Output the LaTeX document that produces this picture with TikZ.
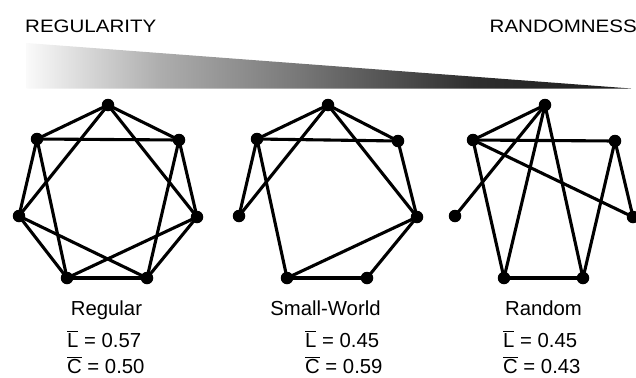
\documentclass[tikz,border=0pt]{standalone}
\usepackage{fontspec}
\setmainfont{Liberation Sans}
\usetikzlibrary{backgrounds}
\pgfdeclarehorizontalshading{wedgeshade}{100bp}{color(0bp)=(black!2); color(25bp)=(black!2); color(36bp)=(black!32); color(47.5bp)=(black!53); color(62bp)=(black!82); color(75bp)=(black!89); color(100bp)=(black!89)}
\tikzset{
  dot/.style={circle, fill=black, inner sep=0pt, minimum size=12.5bp},
  edge/.style={line width=3.1bp, line cap=round},
  toplabel/.style={inner sep=0pt, font=\fontsize{18bp}{21bp}\selectfont},
  botlabel/.style={inner sep=0pt, font=\fontsize{20.3bp}{24bp}\selectfont},
}
\newcommand{\barred}[1]{$\overline{\hbox{#1}}$}
\begin{document}
\begin{tikzpicture}[x=1bp,y=-1bp]
\useasboundingbox (0,0) rectangle (636,377);
% labels top
\node[toplabel, anchor=base west] (reg) at (25,32) {\scalebox{1.14}[1]{REGULARITY}};
\node[toplabel, anchor=base east] (rnd) at (637,32) {\scalebox{1.14}[1]{RANDOMNESS}};
% wedge
\shade[shading=wedgeshade] (26.5,43) -- (631,88.5) -- (26.5,88.5) -- cycle;
% graph 1: regular
\node[dot] (a0) at (108,105) {};
\node[dot] (a1) at (179,140) {};
\node[dot] (a2) at (197,217) {};
\node[dot] (a3) at (147,278) {};
\node[dot] (a4) at (67,278) {};
\node[dot] (a5) at (19,216) {};
\node[dot] (a6) at (37,139) {};
% graph 2: small world
\node[dot] (b0) at (328,105) {};
\node[dot] (b1) at (398,141) {};
\node[dot] (b2) at (417,217) {};
\node[dot] (b3) at (367,278) {};
\node[dot] (b4) at (287,278) {};
\node[dot] (b5) at (239,216) {};
\node[dot] (b6) at (257,139) {};
% graph 3: random
\node[dot] (c0) at (545,105) {};
\node[dot] (c1) at (615,141) {};
\node[dot] (c2) at (633,217) {};
\node[dot] (c3) at (583,278) {};
\node[dot] (c4) at (504,278) {};
\node[dot] (c5) at (455,216) {};
\node[dot] (c6) at (473,140) {};
\begin{scope}[on background layer]
  \foreach \p/\q in {0/1,1/2,2/3,3/4,4/5,5/6,6/0,0/2,1/3,2/4,3/5,4/6,5/0,6/1}
    \draw[edge] (a\p.center) -- (a\q.center);
  \foreach \p/\q in {0/6,0/1,0/5,0/2,6/1,6/5,6/4,1/2,2/4,2/3,4/3}
    \draw[edge] (b\p.center) -- (b\q.center);
  \foreach \p/\q in {0/6,0/5,0/4,0/3,6/1,6/2,6/4,1/2,1/3,4/3}
    \draw[edge] (c\p.center) -- (c\q.center);
\end{scope}
% bottom labels
\node[botlabel, anchor=base] (n1) at (106.5,315) {Regular};
\node[botlabel, anchor=base west] (l1) at (67,347) {\barred{L} = 0.57};
\node[botlabel, anchor=base west] (k1) at (67,373) {\barred{C} = 0.50};
\node[botlabel, anchor=base] (n2) at (325.5,315) {Small-World};
\node[botlabel, anchor=base west] (l2) at (305,347) {\barred{L} = 0.45};
\node[botlabel, anchor=base west] (k2) at (305,373) {\barred{C} = 0.59};
\node[botlabel, anchor=base] (n3) at (543.5,315) {Random};
\node[botlabel, anchor=base west] (l3) at (503,347) {\barred{L} = 0.45};
\node[botlabel, anchor=base west] (k3) at (503,373) {\barred{C} = 0.43};
\end{tikzpicture}
\end{document}
